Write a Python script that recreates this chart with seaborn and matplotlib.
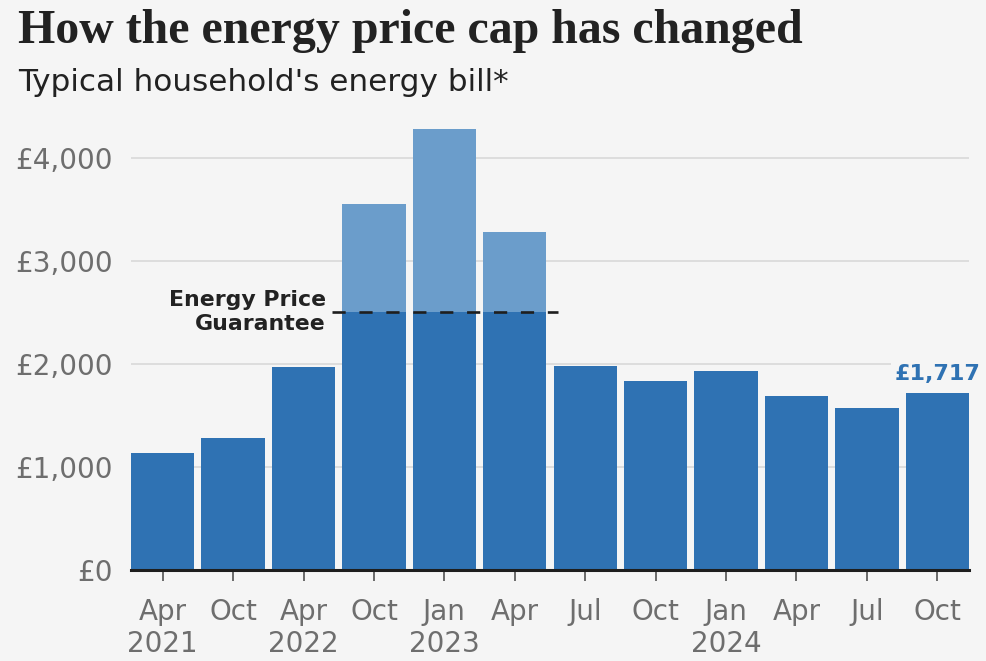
import numpy as np
import pandas as pd
import seaborn as sns
import matplotlib.pyplot as plt

# price cap for a typical household (GBP / year)
periods = ['Apr 2021', 'Oct 2021', 'Apr 2022', 'Oct 2022', 'Jan 2023', 'Apr 2023',
           'Jul 2023', 'Oct 2023', 'Jan 2024', 'Apr 2024', 'Jul 2024', 'Oct 2024']
tick_labels = ['Apr\n2021', 'Oct', 'Apr\n2022', 'Oct', 'Jan\n2023', 'Apr',
               'Jul', 'Oct', 'Jan\n2024', 'Apr', 'Jul', 'Oct']
cap = [1138, 1277, 1971, 3549, 4279, 3280, 1976, 1834, 1928, 1690, 1568, 1717]
# what households actually paid (Energy Price Guarantee limited it to 2,500)
paid = [1138, 1277, 1971, 2500, 2500, 2500, 1976, 1834, 1928, 1690, 1568, 1717]
epg_level = 2500
epg_periods = ['Oct 2022', 'Jan 2023', 'Apr 2023']
y_ticks = [0, 1000, 2000, 3000, 4000]

dark = '#2f72b3'
light = '#6b9dcb'
bg = '#f5f5f5'

df = pd.DataFrame({'period': periods, 'cap': cap, 'paid': paid})

sns.set_style('white')
plt.rcParams['font.family'] = ['DejaVu Sans']

fig = plt.figure(figsize=(9.87, 6.61), dpi=100, facecolor=bg)
ax = fig.add_axes([0.1327, 0.1377, 0.8491, 0.6702])
ax.set_facecolor(bg)

sns.barplot(data=df, x='period', y='cap', order=periods, color=light,
            saturation=1, width=0.9, linewidth=0, ax=ax, zorder=2)
sns.barplot(data=df, x='period', y='paid', order=periods, color=dark,
            saturation=1, width=0.9, linewidth=0, ax=ax, zorder=3)

ax.set_xlim(-0.45, len(periods) - 0.55)
ax.set_ylim(0, 4300)
ax.set_yticks(y_ticks)
ax.set_yticklabels([f'£{v:,}' for v in y_ticks])
ax.set_xticks(range(len(periods)))
ax.set_xticklabels(tick_labels)
ax.set_xlabel(None)
ax.set_ylabel(None)

ax.grid(axis='y', color='#d6d6d6', linewidth=1.1, zorder=0)
ax.set_axisbelow(True)
sns.despine(ax=ax, left=True)
ax.spines['bottom'].set_linewidth(2.2)
ax.spines['bottom'].set_color('#1e1e1e')
ax.spines['bottom'].set_zorder(5)

ax.tick_params(axis='x', bottom=True, direction='out', length=8, width=1.1,
               color='#444444', pad=12, labelsize=20, labelcolor='#6e6e6e')
ax.tick_params(axis='y', left=False, length=0, pad=13, labelsize=20,
               labelcolor='#6e6e6e')

# Energy Price Guarantee marker
idx = [periods.index(p) for p in epg_periods]
x0, x1 = min(idx) - 0.6, max(idx) + 0.62
ax.hlines(epg_level, x0, x1, colors='#1e1e1e', linewidth=1.9,
          linestyles=(0, (5.0, 5.2)), zorder=4)
ax.text(x0 - 0.08, epg_level, 'Energy Price\nGuarantee', ha='right', va='center',
        fontsize=15.8, fontweight='bold', color='#222222', linespacing=1.25, zorder=6)

# latest value label
last = len(periods) - 1
ax.text(last, cap[last] + 90, f'£{cap[last]:,}', ha='center', va='bottom',
        fontsize=16, fontweight='bold', color=dark, zorder=6,
        bbox=dict(boxstyle='square,pad=0.15', facecolor=bg, edgecolor='none'))

fig.text(18 / 987, 1 - 43 / 661, 'How the energy price cap has changed',
         fontsize=34.5, fontweight='bold', family=['Liberation Serif', 'DejaVu Serif'],
         color='#222222', ha='left', va='baseline')
fig.text(18 / 987, 1 - 91 / 661, "Typical household's energy bill*",
         fontsize=22.4, color='#222222', ha='left', va='baseline')

fig.savefig('out.png', dpi=100, facecolor=bg)
